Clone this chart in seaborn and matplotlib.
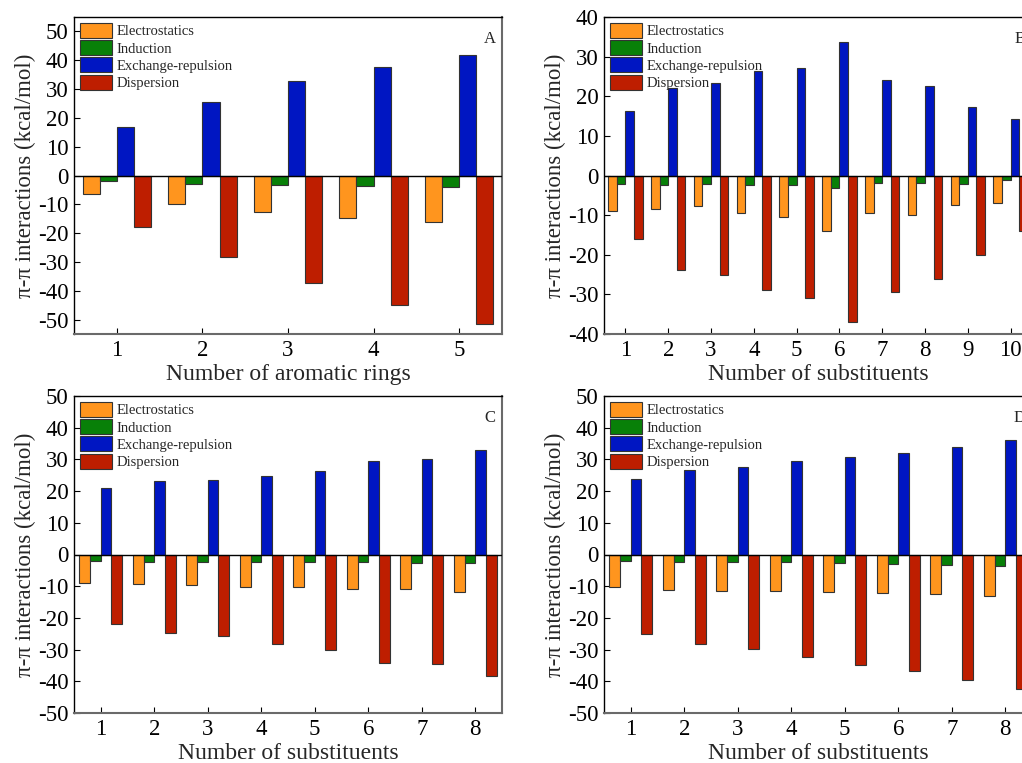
import numpy as np
import pandas as pd
import matplotlib
matplotlib.use("Agg")
import matplotlib.pyplot as plt
import seaborn as sns
from matplotlib.patches import Patch

sns.set_theme(style="white")
plt.rcParams['font.family'] = ['Liberation Serif', 'DejaVu Serif']
plt.rcParams['mathtext.fontset'] = 'stix'

components = ["Electrostatics", "Induction", "Exchange-repulsion", "Dispersion"]
colors = ["#FF951E", "#088008", "#0016C2", "#BE1E00"]

# Panel A
a_groups = ["1", "2", "3", "4", "5"]
a_elec = [-6.3, -9.9, -12.6, -14.7, -16.3]
a_ind = [-1.9, -2.8, -3.3, -3.8, -4.0]
a_exch = [16.9, 25.5, 32.7, 37.8, 41.7]
a_disp = [-17.8, -28.3, -37.4, -44.9, -51.6]

# Panel B
b_groups = ["1", "2", "3", "4", "5", "6", "7", "8", "9", "10"]
b_elec = [-8.9, -8.4, -7.7, -9.4, -10.5, -13.9, -9.4, -9.9, -7.4, -7.0]
b_ind = [-2.1, -2.3, -2.2, -2.5, -2.4, -3.1, -2.0, -1.9, -2.1, -1.2]
b_exch = [16.4, 22.1, 23.3, 26.3, 27.2, 33.8, 24.2, 22.7, 17.3, 14.3]
b_disp = [-15.9, -23.9, -25.2, -28.9, -30.8, -37.0, -29.4, -26.0, -20.0, -14.1]

# Panel C
c_groups = ["1", "2", "3", "4", "5", "6", "7", "8"]
c_elec = [-8.9, -9.2, -9.5, -10.2, -10.3, -10.8, -10.9, -11.7]
c_ind = [-2.1, -2.3, -2.3, -2.3, -2.4, -2.5, -2.8, -2.8]
c_exch = [21.1, 23.1, 23.6, 24.8, 26.4, 29.4, 30.1, 33.0]
c_disp = [-21.9, -24.9, -25.7, -28.1, -30.2, -34.2, -34.5, -38.3]

# Panel D
d_groups = ["1", "2", "3", "4", "5", "6", "7", "8"]
d_elec = [-10.1, -11.2, -11.5, -11.6, -11.7, -12.0, -12.5, -13.2]
d_ind = [-2.0, -2.3, -2.5, -2.5, -2.7, -2.9, -3.3, -3.6]
d_exch = [23.8, 26.8, 27.6, 29.4, 30.8, 32.1, 34.0, 36.1]
d_disp = [-25.2, -28.2, -29.9, -32.3, -35.0, -36.7, -39.7, -42.4]

panels = [
    ("A", a_groups, [a_elec, a_ind, a_exch, a_disp], "Number of aromatic rings", (-55, 55), np.arange(-50, 51, 10)),
    ("B", b_groups, [b_elec, b_ind, b_exch, b_disp], "Number of substituents", (-40, 40), np.arange(-40, 41, 10)),
    ("C", c_groups, [c_elec, c_ind, c_exch, c_disp], "Number of substituents", (-50, 50), np.arange(-50, 51, 10)),
    ("D", d_groups, [d_elec, d_ind, d_exch, d_disp], "Number of substituents", (-50, 50), np.arange(-50, 51, 10)),
]

W, H = 1022, 763
fig = plt.figure(figsize=(W / 100, H / 100), dpi=100)

# axes boxes in pixels: left, top, right, bottom
boxes = [
    (74, 17, 502, 334),
    (604, 17, 1032, 334),
    (74, 396, 502, 713),
    (604, 396, 1032, 713),
]

for (letter, groups, series, xlabel, ylim, yticks), (l, t, r, b) in zip(panels, boxes):
    ax = fig.add_axes([l / W, 1 - b / H, (r - l) / W, (b - t) / H])
    rows = []
    for comp, vals in zip(components, series):
        for g, v in zip(groups, vals):
            rows.append({"group": g, "component": comp, "value": v})
    df = pd.DataFrame(rows)
    sns.barplot(data=df, x="group", y="value", hue="component", hue_order=components,
                order=groups, palette=colors, width=0.8, edgecolor="#333333",
                linewidth=0.8, legend=False, ax=ax, errorbar=None, saturation=1)
    ax.axhline(0, color="black", lw=1.0, zorder=5)
    ax.set_xlim(-0.5, len(groups) - 0.5)
    ax.set_ylim(*ylim)
    ax.set_yticks(yticks)
    ax.set_yticklabels([str(v) for v in yticks])
    ax.set_xlabel(xlabel, fontsize=17, labelpad=2.5)
    ax.set_ylabel("π-π interactions (kcal/mol)", fontsize=16.5, labelpad=1)
    ax.tick_params(axis="both", direction="in", length=4, width=0.8, labelsize=16.5,
                   colors="black", left=True, bottom=True, top=False, right=False, pad=4)
    for s in ["left", "top"]:
        ax.spines[s].set_color("black")
        ax.spines[s].set_linewidth(1.0)
    for s in ["bottom", "right"]:
        ax.spines[s].set_color("#6a6a6a")
        ax.spines[s].set_linewidth(1.5)
    ax.text(0.985, 0.955, letter, transform=ax.transAxes, ha="right", va="top", fontsize=12)
    handles = [Patch(facecolor=c, edgecolor="#333333", linewidth=0.8) for c in colors]
    ax.legend(handles, components, loc="upper left", bbox_to_anchor=(0.0, 1.0), frameon=False,
              fontsize=10.5, handlelength=2.2, handleheight=1.22, labelspacing=0.12,
              handletextpad=0.3, borderaxespad=0.2, borderpad=0.2)

fig.savefig("out.png", dpi=100)
